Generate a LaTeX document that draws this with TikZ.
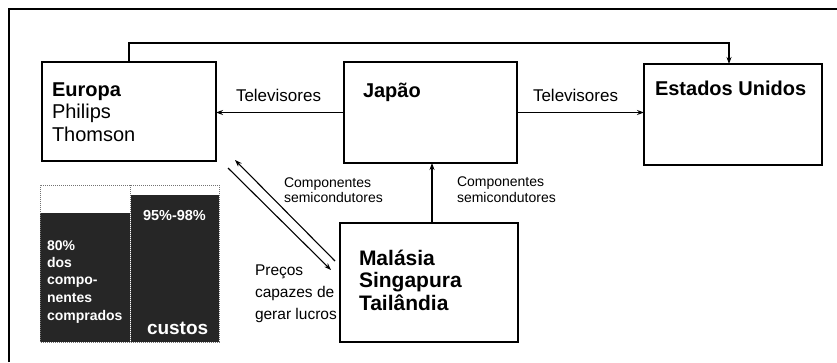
\documentclass[tikz,border=0pt]{standalone}
\usepackage{fontspec}
\setmainfont{Liberation Sans}
\usetikzlibrary{arrows.meta}
\begin{document}
\begin{tikzpicture}[x=1pt,y=-1pt,
  box/.style={draw=black,line width=1.2pt,anchor=north west,inner sep=0pt,outer sep=0pt},
  lbl/.style={anchor=base west,inner sep=0pt,outer sep=0pt},
  big/.style={lbl,font=\fontsize{20}{23}\selectfont\bfseries},
  reg/.style={lbl,font=\fontsize{20}{23}\selectfont},
  mal/.style={lbl,font=\fontsize{21}{23}\selectfont\bfseries},
  tv/.style={lbl,font=\fontsize{17}{20}\selectfont},
  prc/.style={lbl,font=\fontsize{15.5}{20}\selectfont},
  small/.style={lbl,font=\fontsize{14}{15}\selectfont},
  bartxt/.style={lbl,text=white,font=\fontsize{14}{16}\selectfont\bfseries},
  arr/.style={line width=1.1pt,-{Stealth[length=7pt,width=5pt]}}]
\useasboundingbox (0,0) rectangle (837,362);
% frame
\draw[line width=1.2pt] (9,362) -- (9,9) -- (837,9);
% boxes
\node[box,minimum width=174pt,minimum height=99pt] (eur) at (42,62) {};
\node[box,minimum width=173pt,minimum height=101pt] (jap) at (344,62) {};
\node[box,line width=1.7pt,minimum width=178pt,minimum height=101pt] (eu) at (644,64) {};
\node[box,line width=1.5pt,minimum width=178pt,minimum height=119pt] (mal) at (340,223) {};
% box texts
\node[big] (t1) at (52,96) {Europa};
\node[reg] (t2) at (52,118.5) {Philips};
\node[reg] (t3) at (52,141.5) {Thomson};
\node[big] (t4) at (363,97) {Japão};
\node[big] (t5) at (655,95) {Estados Unidos};
\node[mal] (t6) at (359,265) {Malásia};
\node[mal] (t7) at (359,287.5) {Singapura};
\node[mal] (t8) at (359,310) {Tailândia};
% connector labels
\node[tv] (l1) at (236,101) {Televisores};
\node[tv] (l2) at (533,101) {Televisores};
\node[small] (l3) at (284,187) {Componentes};
\node[small] (l4) at (284,202) {semicondutores};
\node[small] (l5) at (457,186) {Componentes};
\node[small] (l6) at (457,202) {semicondutores};
\node[prc] (l7) at (255,275) {Preços};
\node[prc] (l8) at (255,297) {capazes de};
\node[prc] (l9) at (255,319) {gerar lucros};
% connectors
\draw[arr] ([xshift=87pt]eur.north west) -- ++(0,-19) -| ([xshift=85pt]eu.north west);
\draw[arr] (jap.west) -- (jap.west -| eur.east);
\draw[arr] (jap.east) -- (jap.east -| eu.west);
\draw[arr] ([xshift=3pt]mal.north) -- ([xshift=3pt]mal.north |- jap.south);
\coordinate (a1) at (335,261);
\coordinate (a2) at (235,160);
\coordinate (b1) at (228,168);
\coordinate (b2) at (331,270);
\draw[arr] (a1) -- (a2);
\draw[arr] (b1) -- (b2);
% bar chart
\fill[black!85] (40,213) rectangle (130,342);
\fill[black!85] (131,195) rectangle (219,342);
\draw[black!55,densely dotted,line width=1pt] (40,342) -- (40,185) -- (219,185) -- (219,342) -- cycle;
\draw[black!55,densely dotted,line width=1pt] (130.5,185) -- (130.5,342);
\node[bartxt] (c1) at (47,250) {80\%};
\node[bartxt] (c2) at (47,267) {dos};
\node[bartxt] (c3) at (47,284) {compo-};
\node[bartxt] (c4) at (47,302) {nentes};
\node[bartxt] (c5) at (47,320) {comprados};
\node[bartxt,font=\fontsize{14.5}{16}\selectfont\bfseries] (c6) at (143,220) {95\%-98\%};
\node[bartxt,font=\fontsize{19}{20}\selectfont\bfseries] (c7) at (147,334) {custos};
\end{tikzpicture}
\end{document}
